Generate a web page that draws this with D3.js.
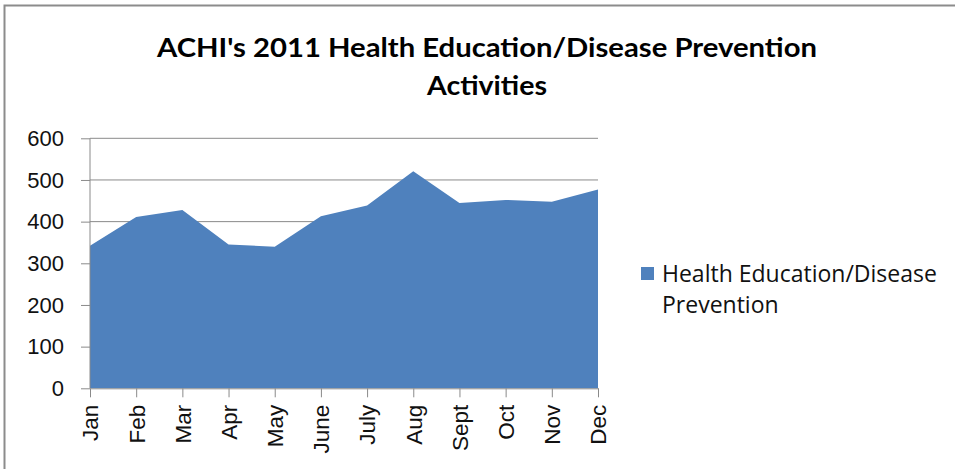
<!DOCTYPE html>
<html><head><meta charset="utf-8">
<script src="https://cdn.jsdelivr.net/npm/d3@7"></script>
<style>body{margin:0;background:#fff}svg{display:block}</style>
</head><body>
<svg id="c" width="955" height="469"></svg>
<script>
const months = ["Jan","Feb","Mar","Apr","May","June","July","Aug","Sept","Oct","Nov","Dec"];
const activities = [342, 411, 428, 345, 340, 413, 439, 521, 445, 452, 448, 477];
const yTicks = [0, 100, 200, 300, 400, 500, 600];
const seriesName = ["Health Education/Disease", "Prevention"];
const titleLines = ["ACHI's 2011 Health Education/Disease Prevention", "Activities"];

const svg = d3.select("#c");
const color = "#4F81BD";
const m = {left: 90, right: 598, top: 138.3, bottom: 388.3};
const axisFont = "'Liberation Sans', Arial, sans-serif";

svg.append("rect").attr("x",4.5).attr("y",5.5).attr("width",960).attr("height",470)
  .attr("fill","#fff").attr("stroke","#8c8c8c").attr("stroke-width",2);

const x = d3.scalePoint().domain(months).range([m.left, m.right]);
const y = d3.scaleLinear().domain([0,600]).range([m.bottom, m.top]);

// gridlines
svg.append("g").selectAll("line").data(yTicks.filter(d=>d>0)).join("line")
  .attr("x1", m.left).attr("x2", m.right).attr("y1", d=>y(d)).attr("y2", d=>y(d))
  .attr("stroke","#8a8a8a").attr("stroke-width",1);

// area
const area = d3.area().x((d,i)=>x(months[i])).y0(y(0)).y1(d=>y(d));
svg.append("path").datum(activities).attr("d", area).attr("fill", color);

// y axis
const ya = svg.append("g").attr("transform",`translate(${m.left},0)`)
  .call(d3.axisLeft(y).tickValues(yTicks).tickSize(9).tickPadding(17));
ya.select(".domain").attr("stroke","#8a8a8a").attr("d",`M0,${m.top}V${m.bottom}`);
ya.selectAll(".tick line").attr("stroke","#8a8a8a");
ya.selectAll(".tick text").style("font-size","22px").style("font-family",axisFont).attr("fill","#111");

// x axis
const xa = svg.append("g").attr("transform",`translate(0,${m.bottom})`)
  .call(d3.axisBottom(x).tickSize(9).tickSizeOuter(0));
xa.select(".domain").attr("stroke","#8a8a8a");
xa.selectAll(".tick line").attr("stroke","#8a8a8a");
xa.selectAll(".tick text").style("font-size","22.5px").style("font-family",axisFont).attr("fill","#111")
  .attr("transform","rotate(-90)").attr("text-anchor","end").attr("dy","0.35em")
  .attr("x",-16.5).attr("y",0);

// title
const t = svg.append("g").style("font-family","Lato, 'Open Sans', sans-serif");
t.append("text").attr("x",487).attr("y",57).attr("text-anchor","middle")
  .style("font-size","26px").style("font-weight","bold").attr("fill","#000")
  .attr("textLength",660).attr("lengthAdjust","spacingAndGlyphs").text(titleLines[0]);
t.append("text").attr("x",487).attr("y",95).attr("text-anchor","middle")
  .style("font-size","26px").style("font-weight","bold").attr("fill","#000")
  .attr("textLength",120).attr("lengthAdjust","spacingAndGlyphs").text(titleLines[1]);

// legend
const lg = svg.append("g");
lg.append("rect").attr("x",641).attr("y",267).attr("width",13).attr("height",13).attr("fill",color);
lg.selectAll("text").data(seriesName).join("text")
  .attr("x",662).attr("y",(d,i)=>282+i*31).style("font-size","23px")
  .style("font-family","'Open Sans', sans-serif").attr("fill","#111").text(d=>d);
</script>
</body></html>
